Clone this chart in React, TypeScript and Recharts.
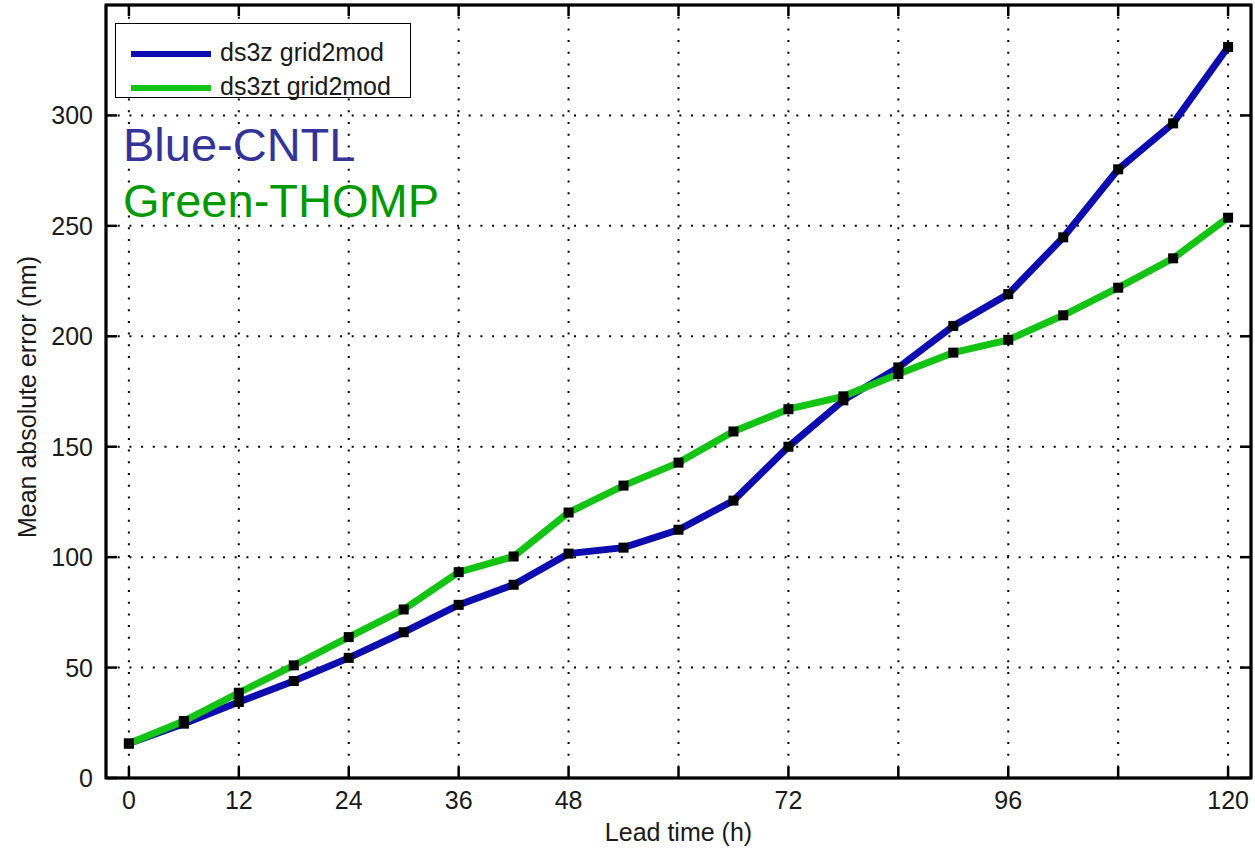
import React from 'react';
import {
  LineChart, Line, XAxis, YAxis, CartesianGrid, Label, ReferenceArea,
} from 'recharts';

/* ─────── Dados ─────── */
const hours = [0, 6, 12, 18, 24, 30, 36, 42, 48, 54, 60, 66, 72, 78, 84, 90, 96, 102, 108, 114, 120];
const cntl = [15.6, 24.6, 34.4, 43.9, 54.4, 66.0, 78.4, 87.5, 101.6, 104.3, 112.4, 125.6, 150.0, 171.0, 185.9, 204.7, 219.1, 244.8, 275.6, 296.4, 331.0];
const thomp = [15.6, 25.8, 38.6, 51.0, 63.8, 76.3, 93.2, 100.3, 120.2, 132.4, 142.8, 156.9, 167.0, 172.8, 182.9, 192.6, 198.4, 209.5, 222.0, 235.3, 253.7];
const xTicks = [0, 12, 24, 36, 48, 60, 72, 84, 96, 108, 120];
const xTickLabels = ['0', '12', '24', '36', '48', '', '72', '', '96', '', '120'];
const yTicks = [0, 50, 100, 150, 200, 250, 300];

const data = hours.map((h, i) => ({ h, cntl: cntl[i], thomp: thomp[i] }));

const FONT = '"Liberation Sans", Arial, Helvetica, sans-serif';
const BLUE = '#0c0cb0';
const GREEN = '#14c414';
const TICK_LEN = 11;

/* ─────── Ticks (para dentro, estilo MATLAB) ─────── */
const BottomTick = (props: any) => {
  const { x, y, payload, index } = props;
  return (
    <g>
      <line x1={x} x2={x} y1={y} y2={y - TICK_LEN} stroke="#000" strokeWidth={2.5} />
      <text x={x} y={y + 31} textAnchor="middle" fontSize={25} fontFamily={FONT} fill="#1a1a1a">
        {xTickLabels[index] ?? payload.value}
      </text>
    </g>
  );
};

const TopTick = (props: any) => {
  const { x, y } = props;
  return <line x1={x} x2={x} y1={y} y2={y + TICK_LEN} stroke="#000" strokeWidth={2.5} />;
};

const LeftTick = (props: any) => {
  const { x, y, payload } = props;
  return (
    <g>
      <line x1={x} x2={x + TICK_LEN} y1={y} y2={y} stroke="#000" strokeWidth={2.5} />
      <text x={x - 13} y={y + 9} textAnchor="end" fontSize={25} fontFamily={FONT} fill="#1a1a1a">
        {payload.value}
      </text>
    </g>
  );
};

const RightTick = (props: any) => {
  const { x, y } = props;
  return <line x1={x} x2={x - TICK_LEN} y1={y} y2={y} stroke="#000" strokeWidth={2.5} />;
};

const squareDot = (props: any) => {
  const { cx, cy, key } = props;
  if (cx == null || cy == null) return <g key={key} />;
  return <rect key={key} x={cx - 5} y={cy - 5} width={10} height={10} fill="#000" />;
};

export default function App() {
  return (
    <div style={{ position: 'absolute', left: 0, top: 0, width: 1255, height: 849, background: '#fff' }}>
      <LineChart
        width={1255}
        height={849}
        data={data}
        margin={{ top: 4, right: 2, left: 0, bottom: 0 }}
      >
        <CartesianGrid
          stroke="#000"
          strokeWidth={2}
          strokeDasharray="2 9.7"
          horizontalValues={yTicks.slice(1)}
          verticalValues={xTicks}
        />
        {/* moldura da área do gráfico */}
        <ReferenceArea
          x1={-2.5}
          x2={122.5}
          y1={0}
          y2={350}
          fill="none"
          fillOpacity={0}
          stroke="#000"
          strokeWidth={3}
          ifOverflow="visible"
        />
        <XAxis
          dataKey="h"
          type="number"
          domain={[-2.5, 122.5]}
          ticks={xTicks}
          interval={0}
          height={71}
          tickSize={0}
          tickMargin={0}
          tickLine={false}
          axisLine={{ stroke: '#000', strokeWidth: 2.5 }}
          tick={<BottomTick />}
          allowDataOverflow
        >
          <Label
            content={({ viewBox }: any) => (
              <text
                x={viewBox.x + viewBox.width / 2}
                y={viewBox.y + 63}
                textAnchor="middle"
                fontSize={25}
                fontFamily={FONT}
                fill="#1a1a1a"
              >
                Lead time (h)
              </text>
            )}
          />
        </XAxis>
        <XAxis
          xAxisId="top"
          orientation="top"
          type="number"
          dataKey="h"
          domain={[-2.5, 122.5]}
          ticks={xTicks}
          interval={0}
          height={1}
          tickSize={0}
          tickMargin={0}
          tickLine={false}
          axisLine={{ stroke: '#000', strokeWidth: 2.5 }}
          tick={<TopTick />}
          allowDataOverflow
        />
        <YAxis
          type="number"
          domain={[0, 350]}
          ticks={yTicks}
          interval={0}
          width={106}
          tickSize={0}
          tickMargin={0}
          tickLine={false}
          axisLine={{ stroke: '#000', strokeWidth: 2.5 }}
          tick={<LeftTick />}
          allowDataOverflow
        >
          <Label
            content={() => (
              <text
                x={36}
                y={397}
                transform="rotate(-90 36 397)"
                textAnchor="middle"
                fontSize={25}
                fontFamily={FONT}
                fill="#1a1a1a"
              >
                Mean absolute error (nm)
              </text>
            )}
          />
        </YAxis>
        <YAxis
          yAxisId="right"
          orientation="right"
          type="number"
          dataKey="cntl"
          domain={[0, 350]}
          ticks={yTicks}
          interval={0}
          width={2}
          tickSize={0}
          tickMargin={0}
          tickLine={false}
          axisLine={{ stroke: '#000', strokeWidth: 2.5 }}
          tick={<RightTick />}
          allowDataOverflow
        />
        <Line
          type="linear"
          dataKey="cntl"
          name="ds3z grid2mod"
          stroke={BLUE}
          strokeWidth={7}
          dot={squareDot}
          activeDot={false}
          isAnimationActive={false}
        />
        <Line
          type="linear"
          dataKey="thomp"
          name="ds3zt grid2mod"
          stroke={GREEN}
          strokeWidth={7}
          dot={squareDot}
          activeDot={false}
          isAnimationActive={false}
        />
      </LineChart>

      {/* legenda */}
      <div style={{
        position: 'absolute', left: 115, top: 23, width: 296, height: 75,
        border: '1.5px solid #000', background: '#fff', boxSizing: 'border-box',
        fontFamily: FONT, fontSize: 25, color: '#1a1a1a',
      }}>
        {[{ c: BLUE, t: 'ds3z grid2mod', top: 17 }, { c: GREEN, t: 'ds3zt grid2mod', top: 51 }].map(it => (
          <div key={it.t} style={{ position: 'absolute', left: 15, top: it.top, display: 'flex', alignItems: 'center' }}>
            <span style={{ width: 80, height: 6, background: it.c, display: 'inline-block' }} />
            <span style={{ marginLeft: 9, lineHeight: '25px', position: 'relative', top: -1 }}>{it.t}</span>
          </div>
        ))}
      </div>

      {/* anotações */}
      <svg width={1255} height={849} style={{ position: 'absolute', left: 0, top: 0, pointerEvents: 'none' }}>
        <text x={123} y={161} fontSize={47} fontFamily={FONT} fill="#333399">Blue-CNTL</text>
        <text x={123} y={217} fontSize={47} fontFamily={FONT} fill="#009900">Green-THOMP</text>
      </svg>
    </div>
  );
}
